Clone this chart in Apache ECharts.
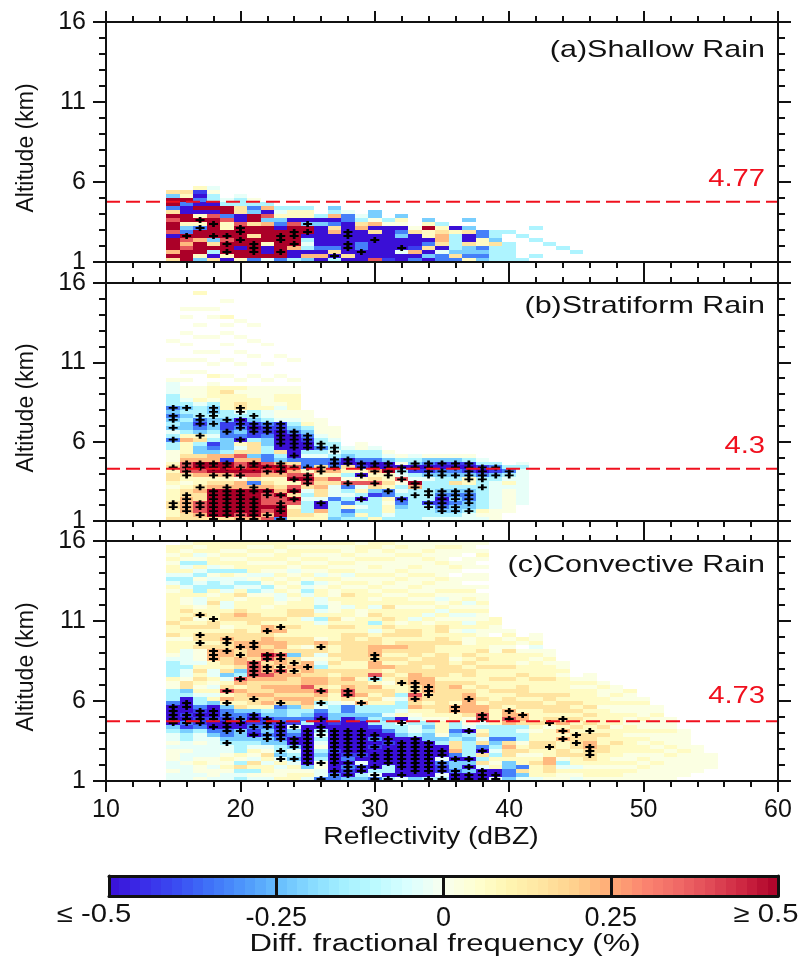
<!DOCTYPE html>
<html><head><meta charset="utf-8">
<style>html,body{margin:0;padding:0;background:#fff}#c{width:804px;height:957px}</style>
<script src="https://cdn.jsdelivr.net/npm/echarts@6/dist/echarts.min.js"></script>
</head><body><div id="c"></div>
<script>
// Level codes (blue A..F, warm f..a), value in %
const levelValues = {A:-0.5,B:-0.42,C:-0.33,D:-0.22,E:-0.13,F:-0.03,f:0.02,e:0.07,d:0.15,c:0.23,b:0.38,a:0.5};
const firstColumn = 15;   // dBZ of the first column
const rowBase = 1;        // km
const rowStep = 0.25;     // km
// each string is one reflectivity column, from the 1 km row upward
const shallowColumns = [
"dacaaaAbaabadCaaDd","aaabcbaCDeaaAACaed","DeaaacaaCeaeAaACABe","dAEadDaaaaabAaAEEfF","AeaaabaaeebCaaEF","eaaAaaaaabAAddEEF",
"CaaaaadaadaaDCEf","FaAAeaaaacDbAcE","CaaaaaaaACDeFE","EAAcaaaaabAeeE","DcAEFEAaaDAeeE","AcACAAAAADAE","EAdCAAAcdCAcED",
"AdAAAAAAAACCF","AAACCAAAcdEF","bAAAAAAdAcfDD","BAAAAAAAAfE","AAFAAADCAfeD","CAcBAAAdf","ADAdCAeeaeD","CCFAdccdeE","CdDEEEEeA",
"eCDDdAAdD.D","DCDCeeCC","EEEEdDEE","EEEEE..E","E.....E",".E...E..E","....E","...E","..E"];
const stratiformColumns = [
"deeddeeefeddedefffEECEFDEDCDCEEEFFFf....f....f",
"ddccccddefedbbbcdeeeceEDDEDEDEFfff.f.f..f...f..f...f.f",
"dcbbbddcdeecbaacdDDEdeDCBCEEEFefff...f..f.f...f..f...f...e",
"daaaaaaacdecaaaccDCBEFEDDDEDDEfeeef.e..f..f...f....f.f",
"daaaaaaacdecaaaBcEDDDCCBBDEEeeeede..f...f...f..f.f.e...f",
"cbaaaaaaccfbabbcbdFeACDCBAEFddeefe.f...f..f...f...f",
"caaaaaaacCdbaaacDdddEBBABDEEeeefff..f....f...f...f",
"bcbabbbacdecbabCCEEDDCBBCEFFefffff.f...f....f",
"CaaabbacdeecaacDEdAAAAABBFffFfeeff..f....f",
"eddebadabeabcbdCAAAAAACDEFffeeeeff.f....f",
"edEEEFEFdbabeCCCFEAABCDEefff","eecAAFddcdcecdCCFECEEFffff","DEEEECFFFdbecCBCEFEEFfff","EDCeCEFECbfEedAADEF",
"EeEFEAEeFbeAeBACEEff","eEEEEEBDdbdecAACEEF","EFeefeCCedeeaAADFf","EEEDCBEFEfbFEAfEf","EEEEEEEEcaFEBADEF","FEEEBEEEEEFDBACDf",
"FEDCBACDEEEDCABDf","FEDDCDCDEdEDCABDf","FFEDDCCDEeeDBABEf","FfeEEEEEEEECABEF","fffFFFFFFFEDBCE","..ffffffFeFECE","....FFFFFFFFFEF"];
const convectiveColumns = [
"FFfFFfffFfFFEDAAAAACEEEffeEEEEFfeeefdeedeeeeeeefeFEFeefefee",
"FFFFfFFfFFEEDBCABAAAAEDddfFFEFFFFeefeedededeffeeFEEFeFEfefefe",
"fFffefFFFfFFECBBABCEEFefededeFfffdeddedefdefFFeEEFfEFeEfFefe",
"FffFffFFFFFDCAABAAADeFeFfeFFeecccdeddeddeeeedefeEEFfEFeefeee",
"FFfefefFFEDCCAABCCDecebdeFDdeddccddcdefeddeFFeeFEFFeEfefefee",
"EFEdEfeEEEDDDAACCDdeddcecbEDdccddccdddeedcdeefdeFEFfEeefefee",
"FfEedFfeFEDABCBABDeddcdddcbbbbdccccddeedddeeeefEFEfFeefefefe",
"FfeeFedfFDDCDCBBDEecdcdcdcbccdbacdccdccedeefeefFEfeFfefefefe",
"effFeFDEEDCBBABCDDCdcdccdccbdccbdccdecdedeeefFFefefefefeefee",
"eefeFDEFDAACDFBCEEDdcdccddcdcddDdeddeedeeddeefefefefFfefeefe",
"FefDAAAAAAAAAAECDEdccdcbccdcccfddfddeeeeFddeeeFEFEfefefefefe",
"CFFffEDEfFEFEAAABCFEdcbdccddEFfFddcfeeeFEeFEFFeefFeFfefefefe",
"CCAAAAABAAAAAABDDEEFeededdedededeedeeededefffeffefefefeffefe",
"DABCACBAAAAAAAAADCCfdbbcdcddeedddddddedefeeFeedefefFefefeffe",
"DEABFABAAAAAAAACDEEcecdddeddeedddddedeeeeffeeeeefefefffefeef",
"CFEAAAAABACAABEEDEEededceEbdccdcccddeFeEedeFefefeffefefeffee",
"EAEEAAAAABAACEEDFEEefddefedecededceedededeedeefefefefffefefe",
"FAAAAAAAAAADEEFAeFEEFEeeddeddededcdeddefeeefeefeffefefffefef",
"DAAAAAAAAAAEFFEFfecdcbddcccdddeddddeddeeFeefefefeffefeffefff",
"EAAAAAAAAADDEDEfeededdccccddeddedddeeeefeFefefeffefefffefeff",
"EFBBCFAAAEDfeeefeddddddddeddddddeeddeddefeFefFfeffefffefffef",
"AACDDACcddEDCEEeeccedddcdeeddefeeedeefeefFefeffefff.fef.ffef",
"AADADAEEEEDEAFffdcccccdededdededeeffeFeFfFefFefef.ff.fff.fff",
"AAAFdEdACdFdeEFbbccedeedeeeedededeeeffeeffefeff.f.ff.f.fef.f",
"FAAefeEFEDCEEEeeeeddeedeedeedeeeffee.ffee",
"DCCDDeddcdCEEEcbcceddedeedeedeeedfefef",
"FDdCeefdefEEFEdcceddedddeedeefeef.fe",
"FeeedefeddeefedeeeddedeeedeeeefefFeff",
"feddcceeddeeefddeddeddeeedeeefeff",
"ffeFEfddeecececdedddedeeeefeff",
"FfeFeededdddededededeeefef",
"feefedddccddeedededeeeefeff",
"feefeeeddeededeeeefeeffef",
"feefefeeedeeefeeeffefeff",
"ffefeffeeeefeeffeffeffe",
"fffefefeefefeffefffef",
"ffffeffefeffefffeff",
"ffffffefefffefff",
".ffffffefffff",
"..fffffff",
"...ffff"];
// significance marks: [dBZ, [row numbers above 1 km]]
const shallowMarks = [[16,[6]],[17,[10,8]],[18,[9,6]],[19,[6,4,2]],[20,[8,7,5]],[21,[4,3,2]],[23,[6,5,2]],[24,[7,6,4]],[25,[9,7]],[27,[1]],[28,[7,6,4,3]],[29,[2]],[30,[5]],[32,[3]]];
const stratiformMarks = [[15,[28,26,25,23,20,13,4,3]],[16,[28,14,13,12,11,6,5,4,3,2]],[17,[26,25,24,21,14,13,8,4,3,1]],
[18,[28,27,26,24,14,13,11,7,6,5,4,3,2,1,0]],[19,[25,22,14,13,11,8,7,6,5,4,3,2,1]],[20,[28,27,25,24,23,20,13,11,7,6,5,4,3,2,1,0]],
[21,[26,24,23,22,14,13,8,7,5,4,3,2,1,0]],[22,[24,23,22,13,12,7,6,1]],[23,[24,23,22,21,20,19,14,13,12,6,4,3,2,0]],[24,[22,21,20,19,18,16,13,10,7,5]],
[25,[21,20,19,18,13,11,10,9]],[26,[19,18,13,12,4]],[27,[18,17,15,14,13]],[28,[15,14,9]],[29,[14,13,11,5]],[30,[14,13,12,9]],[31,[14,13,12,11,7]],
[32,[13,12,10,5]],[33,[14,13,9,8,6]],[34,[14,13,12,11,7,6,4,3]],[35,[14,12,11,7,6,5,4,3,2]],[36,[14,13,11,7,6,5,3,2]],[37,[14,13,12,11,10,7,6,5,4,2]],
[38,[13,12,11,10,8]],[39,[13,11]],[40,[12,11]]];
const convectiveMarks = [[15,[18,17,16,15,14]],[16,[19,18,16,15,14]],[17,[41,36,34,17,16,15,14]],[18,[40,32,31,30,17,16,15,13]],
[19,[35,34,32,22,19,16,15,14,13,12,9]],[20,[33,31,25,15,14,12]],[21,[34,33,29,28,27,26,20,16,15,13,11]],[22,[37,31,30,28,27,15,14,13,11,10]],
[23,[38,31,30,28,27,19,14,13,12,11,10,7,5]],[24,[29,27,13,10,9,8,5]],[25,[28,12,11,10,9,8,7,6,5,4]],[26,[33,22,19,15,13,12,11,4,0]],
[27,[12,11,10,9,8,7,6,5,4,2,1]],[28,[22,21,12,11,10,9,8,7,6,4,3,2,1]],[29,[19,12,11,10,9,8,7,6,3,2]],[30,[31,30,25,11,10,8,6,5,3,1,0]],
[31,[10,9,7,6,5,4,0]],[32,[24,14,9,8,7,6,5,4,3,1]],[33,[24,23,22,20,10,9,8,7,6,5,4,3,2]],[34,[23,22,21,9,8,7,6,5,4,3,2,0]],[35,[7,6,4,3,2,0]],
[36,[18,17,5,2,1,0]],[37,[20,12,5,3,1,0]],[38,[16,15,7,2,1,0]],[39,[1,0]],[40,[17,15]],[41,[16]],[43,[14,8]],[44,[15,12,10]],[45,[11,9]],[46,[12,8,7,6]]];
const freezingLevels = [4.77,4.3,4.73];
const freezingLabels = ['4.77','4.3','4.73'];
const panelTitles = ['(a)Shallow Rain','(b)Stratiform Rain','(c)Convective Rain'];
const altitudeTicks = [1,6,11,16];
const altitudeMinorTicks = [1,2,3,4,5,6,7,8,9,10,11,12,13,14,15,16];
const colorStops = ['#3a0fd6','#3a2ce8','#3a4cf2','#3f72f8','#4d96fb','#66bcfd','#86daff','#a4f0ff','#bdfaff','#dcffff','#f8ffee','#ffffd0','#fff5b0','#ffe4a0','#ffcf8c','#ffaa76','#fb8570','#f06a66','#e04a56','#cc2440','#ab0028'];
const colorbarBinCount = 64;

const AXIS = '#111';
function cells(cols){
  const out=[];
  cols.forEach((s,i)=>{
    for(let r=0;r<s.length&&r<60;r++){
      const v=levelValues[s[r]];
      if(v===undefined) continue;
      const x=firstColumn+i;
      out.push([x-.5,x+.5,rowBase+r*rowStep,rowBase+(r+1)*rowStep,v]);
    }
  });
  return out;
}
function marks(list){
  const out=[];
  list.forEach(([x,rows])=>rows.forEach(r=>out.push([x,rowBase+(r+.5)*rowStep])));
  return out;
}
function renderCell(params,api){
  const a=api.coord([api.value(0),api.value(3)]);
  const b=api.coord([api.value(1),api.value(2)]);
  const x=Math.round(a[0]),y=Math.round(a[1]);
  return {type:'rect',shape:{x,y,width:Math.round(b[0])-x,height:Math.round(b[1])-y},style:{fill:api.visual('color')}};
}
const lineStyle={color:AXIS,width:2};
const panelGrids=[{left:106,top:22,width:672,height:240},{left:106,top:283,width:672,height:238},{left:106,top:541,width:672,height:240}];
const xAxes=[],yAxes=[],series=[];
[shallowColumns,stratiformColumns,convectiveColumns].forEach((cols,p)=>{
  const marksList=[shallowMarks,stratiformMarks,convectiveMarks][p];
  const xb=xAxes.length,yb=yAxes.length;
  [ 'bottom','top' ].forEach(pos=>xAxes.push({type:'value',gridIndex:p,position:pos,min:10,max:60,interval:10,z:5,
    axisLine:{show:true,onZero:false,lineStyle},axisTick:{show:true,inside:false,length:11,lineStyle},
    minorTick:{show:true,splitNumber:5,length:6,lineStyle:{color:AXIS,width:2}},splitLine:{show:false},minorSplitLine:{show:false},
    axisLabel:{show:pos==='bottom'&&p===2,fontSize:25,fontFamily:'Liberation Sans',color:'#111',margin:17}}));
  [['left',true],['left',false],['right',true],['right',false]].forEach(([pos,major])=>yAxes.push({type:'value',gridIndex:p,position:pos,min:1,max:16,z:5,
    name:(pos==='left'&&major)?'Altitude (km)':'',nameLocation:'middle',nameGap:68,nameRotate:90,
    nameTextStyle:{fontSize:23,fontFamily:'Liberation Sans',color:'#111',padding:[0,12,0,0]},
    axisLine:{show:major,onZero:false,lineStyle},
    axisTick:{show:true,length:major?13:7,customValues:major?altitudeTicks:altitudeMinorTicks,lineStyle},
    minorTick:{show:false},splitLine:{show:false},
    axisLabel:{show:pos==='left'&&major,customValues:altitudeTicks,fontSize:25,fontFamily:'Liberation Sans',color:'#111',margin:20,formatter:v=>String(v)}}));
  series.push({type:'custom',name:'cells'+p,xAxisIndex:xb,yAxisIndex:yb,z:1,clip:true,renderItem:renderCell,encode:{x:[0,1],y:[2,3]},data:cells(cols),silent:true});
  series.push({type:'scatter',name:'marks'+p,xAxisIndex:xb,yAxisIndex:yb,z:3,data:marks(marksList),silent:true,
    symbol:'path://M3.5 0h3v3.5h3.5v3H6.5v3.5h-3V6.5H0v-3h3.5z',symbolSize:[9,6],itemStyle:{color:'#000',opacity:1}});
  series.push({type:'line',name:'freezing'+p,xAxisIndex:xb,yAxisIndex:yb,z:4,showSymbol:false,silent:true,
    data:[[10,freezingLevels[p]],[60,freezingLevels[p]]],lineStyle:{color:'#f0101e',width:2,type:[14,6]}});
});
// colour bar
const cbIndex=series.length;
const cbx=xAxes.length,cby=yAxes.length;
const cbLine={color:AXIS,width:3};
['bottom','top'].forEach(pos=>xAxes.push({type:'value',gridIndex:3,position:pos,min:-0.5,max:0.5,interval:0.25,z:5,
  axisLine:{show:true,onZero:false,lineStyle:cbLine},axisTick:{show:false},
  splitLine:{show:pos==='bottom',lineStyle:cbLine},
  axisLabel:{show:pos==='bottom',fontSize:27,fontFamily:'Liberation Sans',color:'#111',margin:9,
    formatter:v=>(v===-0.5||v===0.5)?'':String(v)}}));
['left','right'].forEach(pos=>yAxes.push({type:'value',gridIndex:3,position:pos,min:0,max:1,z:5,
  axisLine:{show:true,onZero:false,lineStyle:cbLine},axisTick:{show:false},splitLine:{show:false},axisLabel:{show:false}}));
const cbData=[];
for(let i=0;i<colorbarBinCount;i++){
  const lo=-0.5+i/colorbarBinCount,hi=-0.5+(i+1)/colorbarBinCount;
  cbData.push([lo,hi,0,1,(lo+hi)/2]);
}
series.push({type:'custom',name:'colorbar',xAxisIndex:cbx,yAxisIndex:cby,z:1,clip:true,renderItem:renderCell,encode:{x:[0,1],y:[2,3]},data:cbData,silent:true});

function stretched(text,x,y,size,color,align,scale){
  return {type:'text',x,y,scaleX:scale,silent:true,z:20,
    style:{text,fontSize:size,fontFamily:'Liberation Sans',fill:color,textAlign:align,textVerticalAlign:'middle'}};
}
const titleY=[50,306,565],valueY=[180,447,697];
const graphic=[];
panelTitles.forEach((t,i)=>graphic.push(stretched(t,765,titleY[i],24,'#111','right',1.27)));
freezingLabels.forEach((t,i)=>graphic.push(stretched(t,765,valueY[i],23,'#f0101e','right',1.27)));
graphic.push(stretched('Reflectivity (dBZ)',431,838,23,'#111','center',1.23));
graphic.push(stretched('≤ -0.5',94,915,25,'#111','center',1.17));
graphic.push(stretched('≥ 0.5',766,915,25,'#111','center',1.17));
graphic.push(stretched('Diff. fractional frequency (%)',445,945,23,'#111','center',1.35));

const chart=echarts.init(document.getElementById('c'),null,{renderer:'canvas'});
chart.setOption({
  animation:false,backgroundColor:'#fff',
  grid:panelGrids.concat([{left:109,top:876,width:669,height:20}]),
  xAxis:xAxes,yAxis:yAxes,series,graphic,
  visualMap:{show:false,type:'continuous',min:-0.5,max:0.5,dimension:4,seriesIndex:[0,3,6,cbIndex],inRange:{color:colorStops}}
});
</script></body></html>
